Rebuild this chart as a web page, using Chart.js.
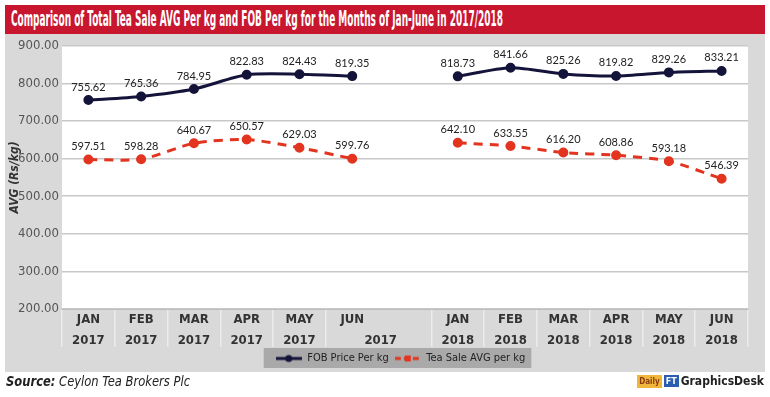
<!DOCTYPE html>
<html>
<head>
<meta charset="utf-8">
<script src="https://cdn.jsdelivr.net/npm/chart.js@4.4.0/dist/chart.umd.min.js"></script>
<style>
body{margin:0;width:770px;height:397px;background:#fff;position:relative;overflow:hidden;font-family:"DejaVu Sans Condensed","DejaVu Sans",sans-serif;}
#title{position:absolute;left:5px;top:5px;width:760px;height:29px;background:#c8162f;overflow:hidden;}
#title span{position:absolute;left:6px;top:0;color:#fff;font-weight:bold;font-size:21px;line-height:29px;white-space:nowrap;transform-origin:0 50%;}
#panel{position:absolute;left:5px;top:34px;width:760px;height:338px;background:#d9d9d9;}
#chart{position:absolute;left:0;top:1px;}
#source{position:absolute;left:6px;top:373px;font-size:14px;font-style:italic;color:#222;white-space:nowrap;transform-origin:0 50%;}
#source b{font-weight:bold;}
#logo{position:absolute;right:6px;top:374px;font-size:12px;font-weight:bold;color:#222;display:flex;align-items:center;gap:2px;}
#logo .d{background:#f0b73a;color:#8a3b12;font-size:8px;padding:2px 2px;}
#logo .f{background:#2a5db0;color:#fff;font-size:9px;padding:1px 2px;}
</style>
</head>
<body>
<div id="title"><span>Comparison of Total Tea Sale AVG Per kg and FOB Per kg for the Months of Jan-June in 2017/2018</span></div>
<div id="panel"><canvas id="chart" width="760" height="339"></canvas></div>
<div id="source"><b>Source:</b> Ceylon Tea Brokers Plc</div>
<div id="logo"><span class="d">Daily</span><span class="f">FT</span><span>GraphicsDesk</span></div>
<script>

const months = [
["JAN","2017"],["FEB","2017"],["MAR","2017"],["APR","2017"],["MAY","2017"],
["JUN","\u2007\u2007\u2007\u2007\u2007\u2007\u20072017"],["",""],
["JAN","2018"],["FEB","2018"],["MAR","2018"],["APR","2018"],["MAY","2018"],["JUN","2018"]
];

const fobPrice = [755.62,765.36,784.95,822.83,824.43,819.35,null,818.73,841.66,825.26,819.82,829.26,833.21];
const teaSaleAvg = [597.51,598.28,640.67,650.57,629.03,599.76,null,642.10,633.55,616.20,608.86,593.18,546.39];

const yTicks = [200,300,400,500,600,700,800,900];

const narrow = "'DejaVu Sans Condensed','DejaVu Sans',sans-serif";

// squeeze html text to the width it has in the picture
function fitWidth(el,w){
const r = w / el.getBoundingClientRect().width;
el.style.transform = "scaleX(" + r + ")";
}
fitWidth(document.querySelector("#title span"),492);
fitWidth(document.getElementById("source"),184);

// little legend icons: line with marker
function legendIcon(color,dashed,square){
const c = document.createElement("canvas");
c.width = 26; c.height = 12;
const g = c.getContext("2d");
g.strokeStyle = color;
g.lineWidth = 3;
if(dashed) g.setLineDash([6,3]);
g.beginPath(); g.moveTo(0,6); g.lineTo(26,6); g.stroke();
g.fillStyle = color;
if(square){ g.fillRect(10,3,6,6); }
else { g.beginPath(); g.arc(13,6,3.5,0,Math.PI*2); g.fill(); }
return c;
}

const bgPlugin = {
id:"bg",
afterLayout(chart){
// legend sits a bit right of centre in the original
chart.legend.left += 24;
chart.legend.right += 24;
},
beforeDraw(chart){
const {ctx, chartArea:a} = chart;
ctx.save();
ctx.fillStyle = "#ffffff";
ctx.fillRect(a.left,a.top,a.right-a.left,a.bottom-a.top);
const boxes = chart.legend.legendHitBoxes;
if(boxes && boxes.length){
let l = Infinity, r = -Infinity, t = Infinity, b = -Infinity;
boxes.forEach(h=>{ l=Math.min(l,h.left); r=Math.max(r,h.left+h.width); t=Math.min(t,h.top); b=Math.max(b,h.top+h.height); });
ctx.fillStyle = "#a9a9a9";
ctx.fillRect(l-12,t-5,r-l+18,b-t+9);
}
ctx.restore();
}
};

const valueLabels = {
id:"valueLabels",
afterDatasetsDraw(chart){
const ctx = chart.ctx;
ctx.save();
ctx.font = "11px Lato, 'Liberation Sans', sans-serif";
ctx.fillStyle = "#222";
ctx.textAlign = "center";
ctx.textBaseline = "middle";
chart.data.datasets.forEach((ds,i)=>{
const meta = chart.getDatasetMeta(i);
meta.data.forEach((pt,j)=>{
const v = ds.data[j];
if(v == null) return;
ctx.fillText(v.toFixed(2), pt.x, pt.y-13);
});
});
ctx.restore();
}
};

const ctx = document.getElementById("chart");

new Chart(ctx,{
type:"line",
data:{
labels:months,
datasets:[{
label:"FOB Price Per kg",
data:fobPrice,
borderColor:"#14143a",
backgroundColor:"#14143a",
borderWidth:3,
pointRadius:3.5,
pointStyle:"circle",
tension:0.25,
spanGaps:false
},{
label:"Tea Sale AVG per kg",
data:teaSaleAvg,
borderColor:"#e2341f",
backgroundColor:"#e2341f",
borderWidth:3,
borderDash:[9,7],
pointRadius:3.5,
pointStyle:"circle",
tension:0.25,
spanGaps:false
}]
},
options:{
responsive:false,
animation:false,
layout:{padding:{top:7,right:17,left:0,bottom:0}},
plugins:{
legend:{
position:"bottom",
labels:{
color:"#222",
font:{family:narrow,size:11},
usePointStyle:true,
pointStyleWidth:26,
boxHeight:12,
padding:6,
generateLabels(chart){
const items = Chart.defaults.plugins.legend.labels.generateLabels(chart);
items[0].pointStyle = legendIcon("#14143a",false,false);
items[1].pointStyle = legendIcon("#e2341f",true,true);
return items;
}
}
},
tooltip:{enabled:false}
},
scales:{
x:{
offset:true,
grid:{
offset:true,
drawOnChartArea:false,
drawTicks:true,
tickLength:38,
color:(c)=> c.index===6 ? "rgba(0,0,0,0)" : "#ececec",
lineWidth:1.5
},
border:{color:"#bdbdbd"},
ticks:{
padding:-37,
color:"#333",
font:{family:narrow,size:13,weight:"bold",lineHeight:1.55},
maxRotation:0,
autoSkip:false
},
afterFit(s){ s.height = 38; }
},
y:{
min:200,
max:900,
afterBuildTicks(s){ s.ticks = yTicks.map(v=>({value:v})); },
grid:{color:"#c8c8c8",lineWidth:1.5,drawTicks:false},
border:{display:false},
ticks:{
padding:3,
color:"#555",
font:{family:narrow,size:13},
callback:(v)=>v.toFixed(2)
},
title:{
display:true,
text:"AVG (Rs/kg)",
color:"#333",
font:{family:narrow,size:12,weight:"bold",style:"italic"},
padding:{top:3,bottom:0}
},
afterFit(s){ s.width = 57; }
}
}
},
plugins:[bgPlugin,valueLabels]
});

</script>
</body>
</html>
